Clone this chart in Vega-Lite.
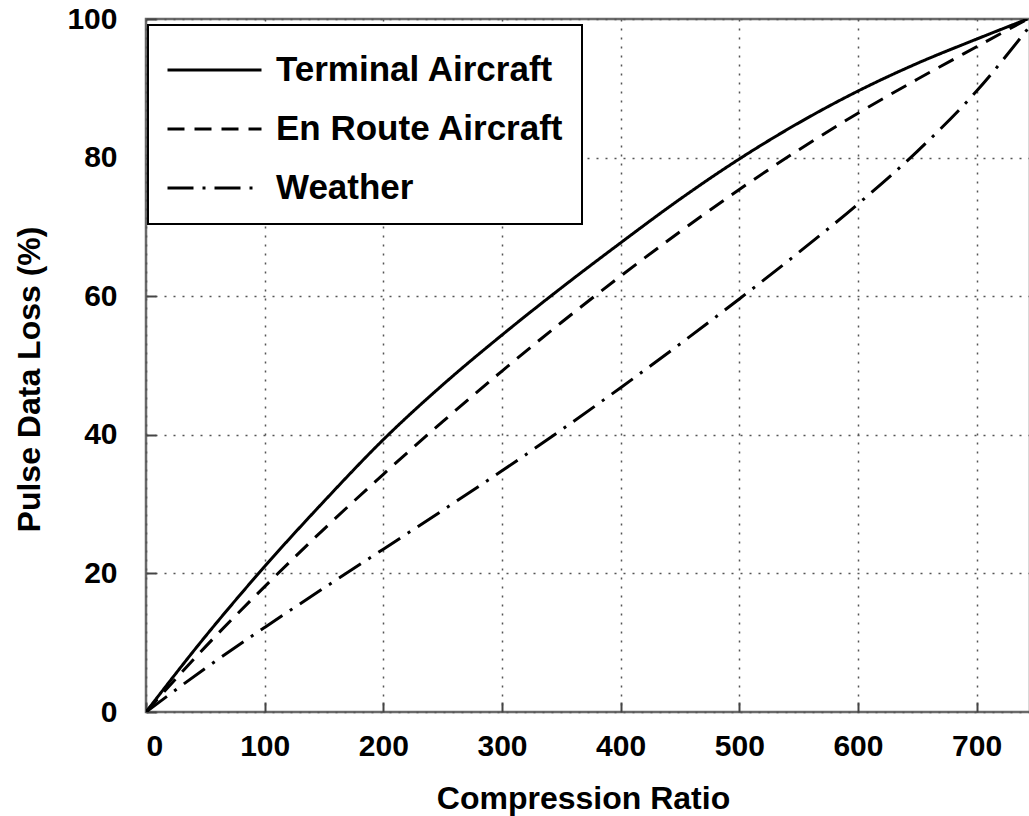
{
  "$schema": "https://vega.github.io/schema/vega-lite/v6.json",
  "width": 884,
  "height": 693,
  "autosize": {"type": "none"},
  "padding": {"left": 146, "top": 19, "right": 0, "bottom": 104},
  "background": "white",
  "config": {
    "font": "Liberation Sans",
    "view": {"stroke": "#6a6a6a", "strokeWidth": 2.5},
    "axis": {
      "domain": false,
      "grid": true,
      "gridColor": "#555555",
      "gridDash": [2, 7],
      "gridWidth": 1.5,
      "gridOpacity": 1,
      "ticks": true,
      "tickColor": "#444444",
      "tickSize": -10,
      "tickWidth": 2,
      "labelFont": "Liberation Sans",
      "labelFontWeight": "bold",
      "labelFontSize": 30,
      "labelColor": "black",
      "titleFont": "Liberation Sans",
      "titleFontWeight": "bold",
      "titleFontSize": 32,
      "titleColor": "black"
    },
    "legend": {
      "orient": "none",
      "legendX": 2,
      "legendY": 6,
      "fillColor": "white",
      "strokeColor": "black",
      "strokeWidth": 2,
      "padding": 18,
      "titleFontSize": 6,
      "titlePadding": 4,
      "labelFont": "Liberation Sans",
      "labelFontWeight": "bold",
      "labelFontSize": 35,
      "labelColor": "black",
      "labelLimit": 500,
      "labelOffset": 13,
      "symbolType": "stroke",
      "symbolSize": 8836,
      "symbolStrokeWidth": 3,
      "symbolStrokeColor": "black",
      "clipHeight": 34,
      "rowPadding": 24
    }
  },
  "data": {
    "values": [
      {"series": "Terminal Aircraft", "x": 0, "y": 0},
      {"series": "Terminal Aircraft", "x": 50, "y": 10.9},
      {"series": "Terminal Aircraft", "x": 100, "y": 21.0},
      {"series": "Terminal Aircraft", "x": 150, "y": 30.4},
      {"series": "Terminal Aircraft", "x": 200, "y": 39.3},
      {"series": "Terminal Aircraft", "x": 250, "y": 47.2},
      {"series": "Terminal Aircraft", "x": 300, "y": 54.4},
      {"series": "Terminal Aircraft", "x": 350, "y": 61.2},
      {"series": "Terminal Aircraft", "x": 400, "y": 67.7},
      {"series": "Terminal Aircraft", "x": 450, "y": 74.0},
      {"series": "Terminal Aircraft", "x": 500, "y": 79.8},
      {"series": "Terminal Aircraft", "x": 550, "y": 85.0},
      {"series": "Terminal Aircraft", "x": 600, "y": 89.6},
      {"series": "Terminal Aircraft", "x": 650, "y": 93.6},
      {"series": "Terminal Aircraft", "x": 700, "y": 97.1},
      {"series": "Terminal Aircraft", "x": 743, "y": 100},
      {"series": "En Route Aircraft", "x": 0, "y": 0},
      {"series": "En Route Aircraft", "x": 50, "y": 9.4},
      {"series": "En Route Aircraft", "x": 100, "y": 18.1},
      {"series": "En Route Aircraft", "x": 150, "y": 26.4},
      {"series": "En Route Aircraft", "x": 200, "y": 34.3},
      {"series": "En Route Aircraft", "x": 250, "y": 41.9},
      {"series": "En Route Aircraft", "x": 300, "y": 49.2},
      {"series": "En Route Aircraft", "x": 350, "y": 56.2},
      {"series": "En Route Aircraft", "x": 400, "y": 62.9},
      {"series": "En Route Aircraft", "x": 450, "y": 69.3},
      {"series": "En Route Aircraft", "x": 500, "y": 75.4},
      {"series": "En Route Aircraft", "x": 550, "y": 81.1},
      {"series": "En Route Aircraft", "x": 600, "y": 86.4},
      {"series": "En Route Aircraft", "x": 650, "y": 91.3},
      {"series": "En Route Aircraft", "x": 700, "y": 96.0},
      {"series": "En Route Aircraft", "x": 743, "y": 100},
      {"series": "Weather", "x": 0, "y": 0},
      {"series": "Weather", "x": 50, "y": 6.3},
      {"series": "Weather", "x": 100, "y": 12.2},
      {"series": "Weather", "x": 150, "y": 17.9},
      {"series": "Weather", "x": 200, "y": 23.5},
      {"series": "Weather", "x": 250, "y": 29.1},
      {"series": "Weather", "x": 300, "y": 34.8},
      {"series": "Weather", "x": 350, "y": 40.7},
      {"series": "Weather", "x": 400, "y": 46.8},
      {"series": "Weather", "x": 450, "y": 53.1},
      {"series": "Weather", "x": 500, "y": 59.6},
      {"series": "Weather", "x": 550, "y": 66.3},
      {"series": "Weather", "x": 600, "y": 73.3},
      {"series": "Weather", "x": 650, "y": 80.9},
      {"series": "Weather", "x": 700, "y": 89.6},
      {"series": "Weather", "x": 745, "y": 99}
    ]
  },
  "mark": {"type": "line", "interpolate": "monotone", "strokeWidth": 3, "color": "black", "clip": true},
  "encoding": {
    "x": {
      "field": "x",
      "type": "quantitative",
      "scale": {"domain": [0, 745], "nice": false},
      "axis": {
        "values": [0, 100, 200, 300, 400, 500, 600, 700],
        "title": "Compression Ratio",
        "titleX": 437,
        "titleY": 96,
        "titleBaseline": "alphabetic",
        "labelBaseline": "alphabetic",
        "labelPadding": 53
      }
    },
    "y": {
      "field": "y",
      "type": "quantitative",
      "scale": {"domain": [0, 100], "nice": false},
      "axis": {
        "values": [0, 20, 40, 60, 80, 100],
        "title": "Pulse Data Loss (%)",
        "titleX": -117,
        "titleY": 360,
        "titleBaseline": "middle",
        "labelPadding": 39,
        "labelBaseline": "middle"
      }
    },
    "strokeDash": {
      "field": "series",
      "type": "nominal",
      "scale": {
        "domain": ["Terminal Aircraft", "En Route Aircraft", "Weather"],
        "range": [[1, 0], [17, 10], [26, 9, 3, 9]]
      },
      "legend": {"title": " "}
    }
  }
}
